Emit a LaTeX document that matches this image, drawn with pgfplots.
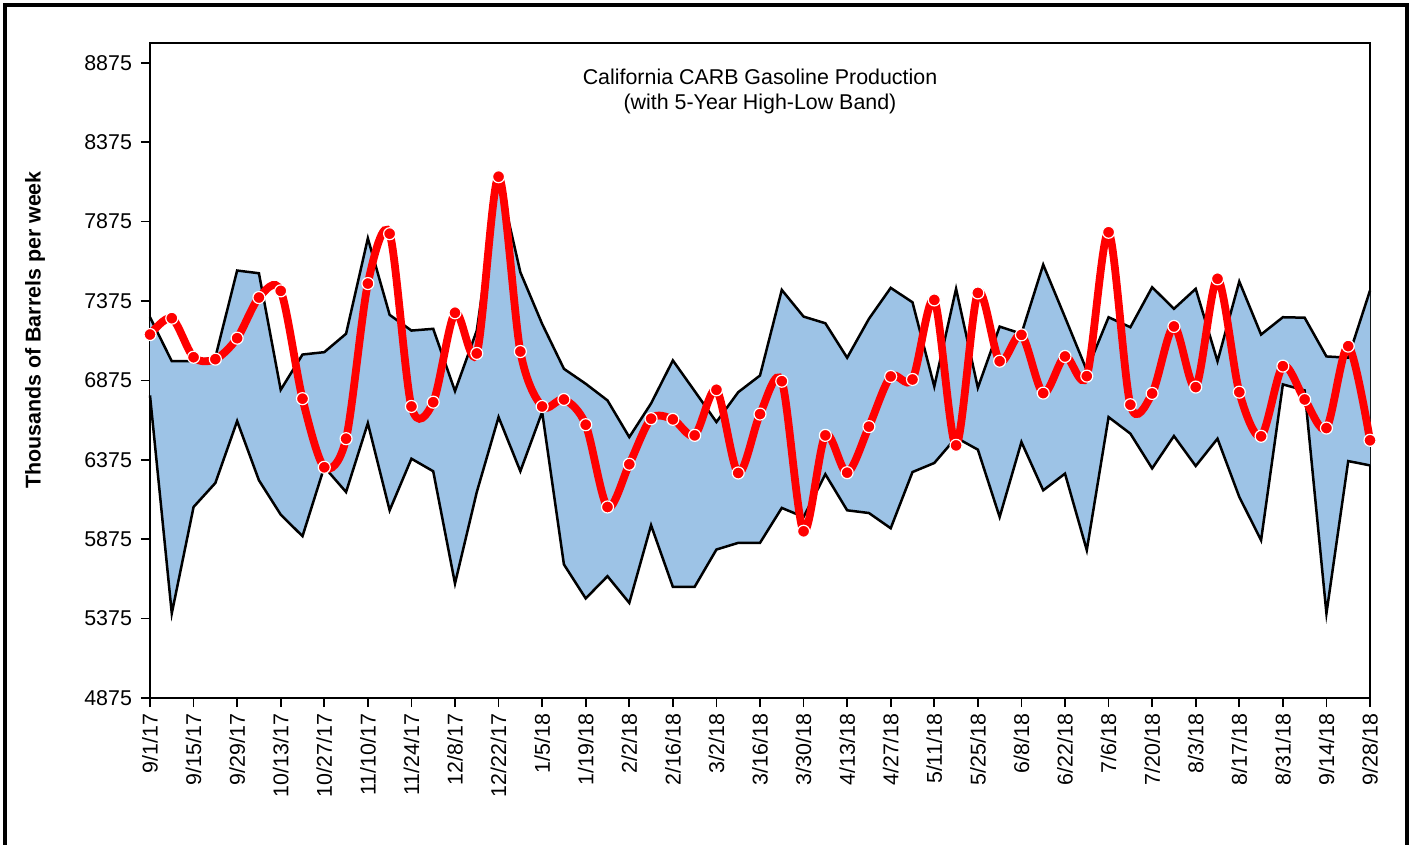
\documentclass[border=0pt]{standalone}
\usepackage{fontspec}
\setmainfont{Liberation Sans}
\usepackage{pgfplots}
\usepackage{pgfplotstable}
\pgfplotsset{compat=1.18}
\definecolor{band}{RGB}{157,195,230}

\pgfplotstableread{
x hi lo prod
0 7273 6781 7164
1 6996 5408 7267
2 6996 6078 7021
3 7021 6229 7009
4 7567 6619 7141
5 7550 6246 7397
6 6816 6030 7439
7 7038 5894 6760
8 7053 6330 6328
9 7169 6172 6508
10 7770 6606 7485
11 7288 6057 7799
12 7189 6382 6711
13 7200 6303 6738
14 6808 5596 7301
15 7189 6172 7045
16 8158 6644 8158
17 7556 6303 7057
18 7231 6676 6711
19 6948 5716 6755
20 6854 5502 6596
21 6749 5642 6078
22 6518 5474 6347
23 6730 5963 6634
24 7001 5575 6630
25 6808 5575 6529
26 6613 5810 6816
27 6801 5852 6292
28 6906 5852 6663
29 7445 6072 6870
30 7277 6015 5925
31 7235 6284 6529
32 7018 6057 6294
33 7263 6040 6584
34 7458 5944 6900
35 7367 6298 6881
36 6837 6355 7382
37 7452 6515 6466
38 6829 6439 7426
39 7214 6015 6996
40 7169 6487 7162
41 7604 6183 6795
42 7273 6288 7026
43 6938 5806 6902
44 7273 6644 7808
45 7210 6540 6722
46 7462 6321 6793
47 7326 6525 7215
48 7452 6336 6833
49 6996 6508 7515
50 7498 6141 6801
51 7164 5869 6523
52 7273 6850 6965
53 7270 6812 6755
54 7026 5408 6575
55 7018 6367 7091
56 7441 6340 6498
}\datatable

\begin{document}
\begin{tikzpicture}
\path[use as bounding box] (0,0) rectangle (706.5pt,-422.5pt);
\draw[line width=2pt] (2.5pt,-440pt) -- (2.5pt,-2.5pt) -- (703.5pt,-2.5pt) -- (703.5pt,-440pt);
\begin{axis}[
  at={(75pt,-349pt)}, anchor=south west,
  scale only axis, width=610pt, height=327.5pt,
  xmin=0, xmax=56, ymin=4875, ymax=9000,
  axis line style={line width=1.25pt},
  tick align=outside, tick pos=left,
  major tick length=4.5pt,
  every tick/.style={black, line width=0.8pt},
  ytick={4875,5375,...,8875},
  xtick={0,2,...,56},
  xticklabels={9/1/17,9/15/17,9/29/17,10/13/17,10/27/17,11/10/17,11/24/17,12/8/17,12/22/17,1/5/18,1/19/18,2/2/18,2/16/18,3/2/18,3/16/18,3/30/18,4/13/18,4/27/18,5/11/18,5/25/18,6/8/18,6/22/18,7/6/18,7/20/18,8/3/18,8/17/18,8/31/18,9/14/18,9/28/18},
  xticklabel style={rotate=90, anchor=east, font=\fontsize{10.7}{12}\selectfont},
  yticklabel style={/pgf/number format/1000 sep={}, font=\fontsize{10.7}{12}\selectfont, xshift=-1pt},
  /pgf/number format/assume math mode=true,
  clip=false,
]
\addplot[draw=none, stack plots=y, forget plot] table[x=x, y=lo] {\datatable};
\addplot[fill=band, draw=none, stack plots=y, forget plot] table[x=x, y expr=\thisrow{hi}-\thisrow{lo}] {\datatable} \closedcycle;
\addplot[black, line width=1.25pt, no marks, stack plots=false] table[x=x, y=hi] {\datatable};
\addplot[black, line width=1.25pt, no marks, stack plots=false] table[x=x, y=lo] {\datatable};
\addplot[red, line width=3.9pt, smooth, stack plots=false, mark=*, mark size=3pt,
  mark options={fill=red, draw=white, line width=0.6pt}] table[x=x, y=prod] {\datatable};
\end{axis}
\node[rotate=90, font=\bfseries\fontsize{10.7}{12}\selectfont] at (17.5pt,-165pt) {Thousands of Barrels per week};
\node[align=center, font=\fontsize{10.7}{12.5}\selectfont] at (380pt,-45.5pt) {California CARB Gasoline Production\\(with 5-Year High-Low Band)};
\end{tikzpicture}
\end{document}
